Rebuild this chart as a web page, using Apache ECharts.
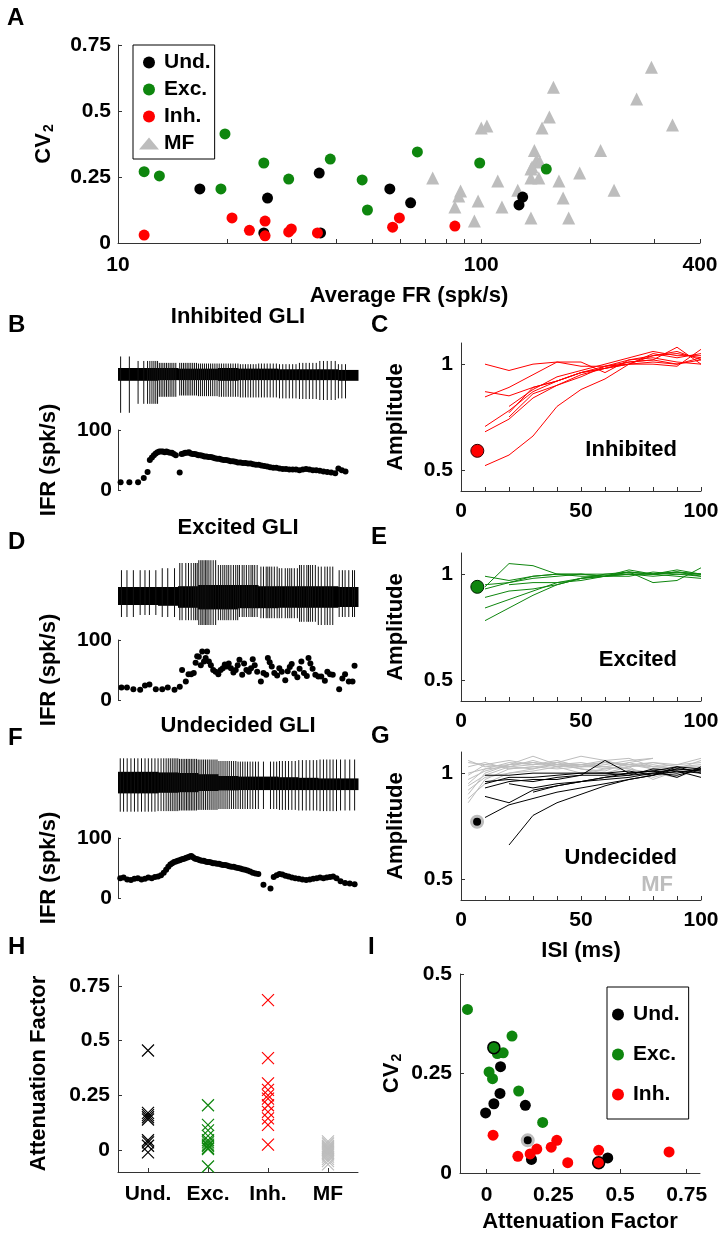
<!DOCTYPE html>
<html>
<head>
<meta charset="utf-8">
<script src="https://cdn.jsdelivr.net/npm/echarts@6.0.0/dist/echarts.min.js"></script>
<style>
html, body { margin: 0; padding: 0; background: #fff; }
#chart { width: 725px; height: 1237px; }
</style>
</head>
<body>
<div id="chart"></div>
<script>
// ---------- A: CV2 vs average firing rate ----------
const aUnd = [[16.8,0.205],[25.8,0.17],[35.8,0.265],[25.2,0.038],[36.1,0.038],[56,0.205],[63.9,0.152],[130,0.174],[127,0.144]];
const aExc = [[11.8,0.27],[13.0,0.254],[19.7,0.413],[19.2,0.205],[25.2,0.303],[29.5,0.242],[38.4,0.318],[47,0.239],[48.6,0.125],[66.7,0.345],[99,0.303],[151,0.28]];
const aInh = [[11.8,0.03],[20.6,0.095],[23,0.048],[25.4,0.083],[25.4,0.027],[29.5,0.042],[30,0.053],[35.4,0.038],[57,0.06],[59.5,0.095],[84.6,0.064]];
const aMF = [[100,0.436],[103.6,0.443],[154,0.477],[147,0.436],[158,0.59],[140,0.35],[267.7,0.545],[294,0.666],[336,0.447],[213,0.35],
  [73.5,0.246],[87.7,0.197],[86.7,0.178],[84.6,0.136],[98,0.159],[95.7,0.083],[111,0.235],[114,0.136],[126,0.2],[137,0.28],
  [137,0.095],[137,0.246],[142,0.314],[144,0.246],[163.6,0.235],[168,0.17],[174,0.095],[186.6,0.265],[232,0.2],[145,0.307],[138,0.288]];
const frLabels = [10, 100, 400];
const frTicks = [10,20,30,40,50,60,70,80,90,100,200,300,400];

// ---------- B, D, F: instantaneous firing rate per spike (spk/s) ----------
const ifrB = [13,13,13,20,30,50,54,58,61,63,64,64,64,63,64,63,62,62,60,58,29,60,61,62,62,63,61,60,60,59,58,58,57,56,56,55,55,54,53,52,52,51,50,50,49,48,48,47,46,46,45,45,44,44,43,42,42,41,40,39,38,37,37,36,35,35,34,34,34,33,34,35,34,33,33,32,31,30,29,28,36,33,31];
const ifrD = [21,21,18,17,24,26,18,18,21,17,22,50,31,43,43,45,62,73,72,58,81,64,70,81,64,58,50,47,43,50,53,59,56,61,53,46,50,58,67,42,61,50,47,53,68,58,47,31,45,42,70,63,56,45,41,53,47,33,48,55,60,44,38,52,64,45,40,70,61,52,42,39,39,32,47,43,42,18,36,43,31,31,57];
const ifrF = [33,34,31,30,32,33,31,32,34,33,35,36,38,42,47,52,56,58,60,61,62,63,64,65,66,67,68,69,70,68,66,65,64,63,62,62,61,60,60,59,58,58,57,57,56,55,55,54,53,52,52,51,50,49,48,47,46,44,42,41,40,22,16,35,38,40,39,37,36,34,33,32,31,30,31,32,33,34,33,34,35,36,33,28,25,24,23];

// raw trace envelopes (12 equal time bins, arbitrary units)
const upB   = [0.86,0.72,0.66,0.66,0.64,0.64,0.62,0.64,0.62,0.66,0.72,0.62];
const downB = [-0.9,-0.62,-0.4,-0.36,-0.38,-0.4,-0.42,-0.42,-0.45,-0.47,-0.5,-0.45];
const bandTopB = [0.5,0.5,0.5,0.48,0.48,0.5,0.48,0.48,0.46,0.46,0.46,0.44];
const bandBotB = [0.1,0.1,0.12,0.12,0.12,0.1,0.12,0.12,0.12,0.12,0.12,0.1];
const upD   = [0.62,0.62,0.67,0.8,0.87,0.75,0.75,0.71,0.67,0.75,0.71,0.62];
const downD = [-0.55,-0.5,-0.55,-0.63,-0.75,-0.63,-0.55,-0.58,-0.58,-0.67,-0.75,-0.55];
const bandTopD = [0.2,0.2,0.2,0.22,0.25,0.25,0.25,0.22,0.22,0.22,0.22,0.2];
const bandBotD = [-0.25,-0.25,-0.27,-0.32,-0.36,-0.36,-0.33,-0.33,-0.32,-0.32,-0.32,-0.3];
const upF   = [0.89,0.89,0.89,0.87,0.85,0.8,0.78,0.78,0.8,0.83,0.85,0.85];
const downF = [-0.89,-0.89,-0.87,-0.85,-0.83,-0.8,-0.8,-0.8,-0.83,-0.85,-0.87,-0.85];
const bandTopF = [0.44,0.44,0.42,0.4,0.36,0.3,0.28,0.28,0.26,0.24,0.22,0.22];
const bandBotF = [-0.28,-0.28,-0.26,-0.24,-0.2,-0.18,-0.17,-0.17,-0.17,-0.17,-0.17,-0.17];

// ---------- C, E, G: amplitude vs ISI ----------
const isiX = [10,20,30,40,50,60,70,80,90,100];
const inhLines = [
  [1.0,0.97,1.0,1.01,1.01,0.96,1.02,1.04,1.05,1.03],
  [0.87,0.85,0.89,0.92,0.96,0.98,1.0,1.04,1.06,1.02],
  [0.845,0.89,0.95,1.01,0.99,0.99,1.01,1.02,1.0,1.02],
  [0.705,0.78,0.87,0.92,0.96,0.99,1.02,1.03,1.01,1.0],
  [0.68,0.74,0.84,0.9,0.95,0.98,1.0,1.05,1.03,1.05],
  [0.52,0.57,0.66,0.8,0.88,0.93,1.0,1.01,1.0,1.03],
  [null,0.8,0.88,0.94,0.97,1.0,1.03,1.06,1.04,1.04],
  [null,0.75,0.86,0.9,0.94,0.99,1.0,1.0,0.99,1.07],
  [null,0.77,0.89,0.92,0.96,0.98,1.01,1.02,1.08,1.0]
];
const excLines = [
  [0.94,1.05,1.04,1.0,1.0,0.99,1.01,1.0,1.01,1.0],
  [0.99,0.97,0.99,1.0,1.0,0.99,1.01,0.96,0.97,1.03],
  [0.89,0.92,0.93,0.95,0.98,0.99,1.0,1.0,1.01,0.99],
  [0.84,0.88,0.92,0.96,0.98,0.99,1.0,0.99,1.0,1.0],
  [0.78,0.84,0.9,0.95,0.98,1.0,1.01,1.0,0.99,0.98],
  [0.93,0.96,0.98,0.99,1.0,1.0,1.0,1.0,1.02,1.0],
  [null,0.95,0.96,0.96,0.97,0.99,1.02,1.0,1.01,1.0],
  [0.95,0.96,0.99,1.0,0.99,0.99,0.99,1.01,1.0,0.99]
];
const undLines = [
  [0.79,0.85,0.88,0.91,0.93,0.95,0.97,0.99,1.01,1.0],
  [null,0.66,0.8,0.86,0.9,0.94,0.97,0.99,1.02,1.01],
  [0.89,0.86,0.92,0.94,0.96,0.97,0.98,1.0,0.99,1.02],
  [0.99,0.99,1.0,1.0,1.0,1.0,0.99,1.0,1.02,1.01],
  [0.96,0.97,0.96,0.98,0.99,1.06,1.0,1.01,1.03,1.02],
  [0.93,0.96,0.97,0.97,0.99,0.99,1.0,1.01,0.98,1.03],
  [null,0.95,0.93,0.95,0.96,0.98,0.99,1.02,1.01,0.98],
  [null,null,0.91,0.94,0.96,0.98,1.0,1.01,1.0,1.02],
  [0.95,0.98,0.98,0.99,1.0,1.0,1.01,0.99,1.03,1.0]
];
const mfX = [3,10,20,30,40,50,60,70,80,90,100];
const mfLines = [
  [0.86,0.97,1.02,1.03,1.04,1.05,1.03,1.05,1.07,null,null],
  [0.9,1.0,1.04,1.05,1.03,1.04,1.05,1.04,1.03,1.02,1.06],
  [0.95,1.02,1.03,1.04,1.05,1.04,1.02,1.04,1.05,1.03,1.03],
  [1.05,1.04,1.03,1.02,1.05,1.08,1.06,1.03,1.04,1.02,1.0],
  [0.92,0.98,1.0,1.02,1.04,1.04,1.06,1.07,1.03,1.04,1.05],
  [1.0,1.02,1.05,1.04,1.06,1.03,1.03,1.02,0.98,1.01,null],
  [0.97,1.01,1.04,1.08,1.04,1.02,1.01,1.05,1.02,1.0,1.03],
  [1.03,1.05,1.02,1.03,1.02,1.03,1.04,1.06,1.07,null,null],
  [0.88,0.95,1.0,1.01,1.03,1.04,1.03,1.02,1.0,0.98,1.02],
  [1.06,1.03,1.04,1.05,1.04,1.03,1.05,1.04,1.02,1.03,1.04],
  [0.94,0.99,1.03,1.06,1.03,1.0,1.02,1.03,0.97,1.01,1.02],
  [0.99,1.04,1.06,1.04,1.05,1.02,1.0,1.03,1.05,1.04,1.07]
];
const inhExample = [[6.8,0.59]];
const excExample = [[6.8,0.94]];
const undExample = [[6.7,0.77]];

// ---------- H: attenuation factor by group ----------
const hGroups = ['Und.','Exc.','Inh.','MF'];
const hUnd = [0.455,0.17,0.16,0.15,0.14,0.045,0.035,0.02,-0.01];
const hExc = [0.205,0.115,0.09,0.065,0.045,0.035,0.025,0.02,0.01,0.005,-0.075];
const hInh = [0.685,0.42,0.305,0.275,0.25,0.235,0.205,0.175,0.145,0.115,0.025];
const hMF  = [0.04,0.03,0.02,0.015,0.01,0.005,0,-0.005,-0.01,-0.015,-0.02,-0.03,-0.04,-0.05,-0.065];
const afTicks = [0,0.25,0.5,0.75];

// ---------- I: CV2 vs attenuation factor ----------
const iExc = [[-0.072,0.411],[0.095,0.344],[0.062,0.302],[0.04,0.3],[0.009,0.254],[0.022,0.237],[0.12,0.206],[0.21,0.127]];
const iUnd = [[0.052,0.267],[0.05,0.2],[0.027,0.174],[-0.004,0.151],[0.145,0.17],[0.168,0.034],[0.454,0.038]];
const iInh = [[0.024,0.095],[0.117,0.042],[0.163,0.048],[0.188,0.06],[0.242,0.065],[0.263,0.082],[0.304,0.026],[0.42,0.057],[0.684,0.053]];
const iExcMarked = [[0.027,0.315]];
const iUndMarked = [[0.154,0.082]];
const iInhMarked = [[0.42,0.026]];

const FONT = '"Liberation Sans", Arial, Helvetica, sans-serif';
const AX = '#333';
const BLACK = '#000', GREEN = '#0e860e', RED = '#ff0000', GRAY = '#bdbdbd';

function lab(size, extra) {
  return Object.assign({ color: '#000', fontFamily: FONT, fontWeight: 'bold', fontSize: size }, extra || {});
}
const line = { show: true, onZero: false, lineStyle: { color: AX, width: 1 } };
const tick = (o) => Object.assign({ show: true, inside: true, length: 4, lineStyle: { color: AX } }, o || {});

// spike times: each IFR value is 1/ISI to the previous spike
function spikeTimes(ifr) {
  const t = [0];
  for (let i = 1; i < ifr.length; i++) t.push(t[i - 1] + 1 / ifr[i]);
  return t;
}
const tB = spikeTimes(ifrB), tD = spikeTimes(ifrD), tF = spikeTimes(ifrF);
const xrB = [-0.023, tB[tB.length - 1] + 0.11];
const xrD = [-0.03, tD[tD.length - 1] + 0.03];
const xrF = [-0.02, tF[tF.length - 1] + 0.03];

const grids = [
  { left: 118, top: 45, width: 582, height: 198 },     // 0 A
  { left: 118, top: 352, width: 240, height: 64 },     // 1 B trace
  { left: 118, top: 430, width: 240, height: 60 },     // 2 B ifr
  { left: 461, top: 343, width: 240, height: 148 },    // 3 C
  { left: 118, top: 555, width: 240, height: 80 },     // 4 D trace
  { left: 118, top: 640, width: 240, height: 60 },     // 5 D ifr
  { left: 461, top: 553, width: 240, height: 148 },    // 6 E
  { left: 118, top: 755, width: 240, height: 60 },     // 7 F trace
  { left: 118, top: 838, width: 240, height: 60 },     // 8 F ifr
  { left: 461, top: 752, width: 240, height: 148 },    // 9 G
  { left: 118, top: 975, width: 240, height: 197 },    // 10 H
  { left: 460, top: 974, width: 240, height: 199 }     // 11 I
];

function hidden(gi, min, max) { return { type: 'value', gridIndex: gi, min, max, show: false }; }
function isiX_axis(gi, name) {
  return {
    type: 'value', gridIndex: gi, min: 0, max: 100, interval: 10,
    axisLine: line, axisTick: tick(), splitLine: { show: false },
    axisLabel: lab(21, { margin: 10, formatter: v => (v % 50 === 0 ? String(v) : '') }),
    name: name || '', nameLocation: 'middle', nameGap: 40, nameTextStyle: lab(22)
  };
}
function ampY(gi) {
  return {
    type: 'value', gridIndex: gi, min: 0.4, max: 1.1,
    axisLine: line, axisTick: tick({ customValues: [0.5, 1] }), splitLine: { show: false },
    axisLabel: lab(21, { margin: 8, customValues: [0.5, 1], formatter: v => String(v) }),
    name: 'Amplitude', nameLocation: 'middle', nameRotate: 90, nameGap: 54, nameTextStyle: lab(22)
  };
}
function ifrY(gi) {
  return {
    type: 'value', gridIndex: gi, min: 0, max: 100, interval: 100,
    axisLine: line, axisTick: tick({ length: 3 }), splitLine: { show: false },
    axisLabel: lab(21, { margin: 6 }),
    name: 'IFR (spk/s)', nameLocation: 'middle', nameRotate: 90, nameGap: 58, nameTextStyle: lab(22)
  };
}
const cvName = '{a|CV}{b|2}';
const cvStyle = lab(22, { rich: { a: lab(22), b: lab(14, { padding: [10, 0, 0, 1] }) } });

const xAxis = [
  { type: 'log', logBase: 10, gridIndex: 0, min: 10, max: 400,
    axisLine: line, axisTick: tick({ customValues: frTicks }), splitLine: { show: false },
    axisLabel: lab(21, { margin: 12, customValues: frLabels, formatter: v => String(Math.round(v)) }),
    name: 'Average FR (spk/s)', nameLocation: 'middle', nameGap: 42, nameTextStyle: lab(22) },
  hidden(1, xrB[0], xrB[1]), hidden(2, xrB[0], xrB[1]),
  isiX_axis(3),
  hidden(4, xrD[0], xrD[1]), hidden(5, xrD[0], xrD[1]),
  isiX_axis(6),
  hidden(7, xrF[0], xrF[1]), hidden(8, xrF[0], xrF[1]),
  isiX_axis(9, 'ISI (ms)'),
  { type: 'category', gridIndex: 10, data: hGroups, boundaryGap: true,
    axisLine: line, axisTick: tick({ alignWithLabel: true, interval: 0 }), splitLine: { show: false },
    axisLabel: lab(21, { margin: 12, interval: 0 }) },
  { type: 'value', gridIndex: 11, min: -0.1, max: 0.8,
    axisLine: line, axisTick: tick({ customValues: afTicks }), splitLine: { show: false },
    axisLabel: lab(21, { margin: 12, customValues: afTicks, formatter: v => String(v) }),
    name: 'Attenuation Factor', nameLocation: 'middle', nameGap: 38, nameTextStyle: lab(22) }
];
const yAxis = [
  { type: 'value', gridIndex: 0, min: 0, max: 0.75, interval: 0.25,
    axisLine: line, axisTick: tick(), splitLine: { show: false },
    axisLabel: lab(21, { margin: 7 }),
    name: cvName, nameLocation: 'middle', nameRotate: 90, nameGap: 62, nameTextStyle: cvStyle },
  hidden(1, -1, 1), ifrY(2), ampY(3),
  hidden(4, -1, 1), ifrY(5), ampY(6),
  hidden(7, -1, 1), ifrY(8), ampY(9),
  { type: 'value', gridIndex: 10, min: -0.1, max: 0.8,
    axisLine: line, axisTick: tick({ customValues: afTicks }), splitLine: { show: false },
    axisLabel: lab(21, { margin: 8, customValues: afTicks, formatter: v => String(v) }),
    name: 'Attenuation Factor', nameLocation: 'middle', nameRotate: 90, nameGap: 68, nameTextStyle: lab(22) },
  { type: 'value', gridIndex: 11, min: 0, max: 0.5, interval: 0.25,
    axisLine: line, axisTick: tick(), splitLine: { show: false },
    axisLabel: lab(21, { margin: 8 }),
    name: cvName, nameLocation: 'middle', nameRotate: 90, nameGap: 56, nameTextStyle: cvStyle }
];

const series = [];
function scat(name, gi, data, color, size, extra) {
  const ex = extra || {};
  series.push(Object.assign({
    type: 'scatter', name, xAxisIndex: gi, yAxisIndex: gi, data, symbolSize: size,
    silent: true, z: 4
  }, ex, { itemStyle: Object.assign({ color, opacity: 1 }, ex.itemStyle || {}) }));
}
function addLines(gi, xs, rows, color, z) {
  rows.forEach(r => {
    series.push({
      type: 'line', xAxisIndex: gi, yAxisIndex: gi, symbol: 'none', silent: true, z,
      lineStyle: { color, width: 1, opacity: 1 },
      data: xs.map((x, i) => [x, r[i]]).filter(p => p[1] !== null)
    });
  });
}
function addTrace(gi, times, xr, up, down, top, bot) {
  const n = up.length, span = xr[1] - xr[0];
  const bin = t => Math.min(n - 1, Math.max(0, Math.floor((t - xr[0]) / span * n)));
  const band = top.map((v, i) => [xr[0] + span * i / n, xr[0] + span * (i + 1) / n, v, bot[i]]);
  series.push({
    type: 'custom', xAxisIndex: gi, yAxisIndex: gi, silent: true, data: band,
    encode: { x: [0, 1], y: [2, 3] },
    renderItem: (p, api) => {
      const a = api.coord([api.value(0), api.value(2)]);
      const b = api.coord([api.value(1), api.value(3)]);
      return { type: 'rect', shape: { x: a[0], y: a[1], width: b[0] - a[0] + 0.5, height: b[1] - a[1] }, style: { fill: '#000' } };
    }
  });
  series.push({
    type: 'custom', xAxisIndex: gi, yAxisIndex: gi, silent: true,
    data: times.map(t => [t, up[bin(t)], down[bin(t)]]),
    encode: { x: 0, y: [1, 2] },
    renderItem: (p, api) => {
      const a = api.coord([api.value(0), api.value(1)]);
      const b = api.coord([api.value(0), api.value(2)]);
      return { type: 'line', shape: { x1: a[0], y1: a[1], x2: b[0], y2: b[1] }, style: { stroke: '#111', lineWidth: 1 } };
    }
  });
}

// A
scat('MF', 0, aMF, GRAY, 13, { symbol: 'triangle', z: 3 });
scat('Exc.', 0, aExc, GREEN, 11);
scat('Und.', 0, aUnd, BLACK, 11);
scat('Inh.', 0, aInh, RED, 11);

// B, D, F
addTrace(1, tB, xrB, upB, downB, bandTopB, bandBotB);
scat('ifrB', 2, tB.map((t, i) => [t, ifrB[i]]), BLACK, 6);
addTrace(4, tD, xrD, upD, downD, bandTopD, bandBotD);
scat('ifrD', 5, tD.map((t, i) => [t, ifrD[i]]), BLACK, 6);
addTrace(7, tF, xrF, upF, downF, bandTopF, bandBotF);
scat('ifrF', 8, tF.map((t, i) => [t, ifrF[i]]), BLACK, 6);

// C, E, G
addLines(3, isiX, inhLines, RED, 2);
scat('inhEx', 3, inhExample, RED, 13, { itemStyle: { borderColor: '#300', borderWidth: 1 } });
addLines(6, isiX, excLines, GREEN, 2);
scat('excEx', 6, excExample, GREEN, 13, { itemStyle: { borderColor: '#020', borderWidth: 1 } });
addLines(9, mfX, mfLines, GRAY, 1);
addLines(9, isiX, undLines, BLACK, 2);
scat('undEx', 9, undExample, BLACK, 11, { itemStyle: { borderColor: GRAY, borderWidth: 3 } });

// H
const cross = 'path://M0,0L10,10M10,0L0,10';
[[hUnd, BLACK], [hExc, GREEN], [hInh, RED], [hMF, GRAY]].forEach((g, k) => {
  scat('h' + k, 10, g[0].map(v => [k, v]), 'rgba(0,0,0,0)', 12,
    { symbol: cross, itemStyle: { borderColor: g[1], borderWidth: 1.2 } });
});

// I
scat('iExc', 11, iExc, GREEN, 11);
scat('iUnd', 11, iUnd, BLACK, 11);
scat('iInh', 11, iInh, RED, 11);
scat('iExcM', 11, iExcMarked, GREEN, 12, { itemStyle: { borderColor: '#000', borderWidth: 1.5 } });
scat('iUndM', 11, iUndMarked, BLACK, 11, { itemStyle: { borderColor: GRAY, borderWidth: 3 } });
scat('iInhM', 11, iInhMarked, RED, 12, { itemStyle: { borderColor: '#000', borderWidth: 1.5 } });

function txt(x, y, s, size, align, color) {
  return {
    type: 'text', x, y, silent: true,
    style: { text: s, font: 'bold ' + size + 'px ' + FONT, fill: color || '#000',
      align: align || 'left', textAlign: align || 'left', verticalAlign: 'middle', textVerticalAlign: 'middle' }
  };
}
const graphic = [
  txt(7, 18, 'A', 24), txt(8, 325, 'B', 24), txt(371, 325, 'C', 24),
  txt(8, 542, 'D', 24), txt(371, 537, 'E', 24), txt(8, 738, 'F', 24),
  txt(371, 736, 'G', 24), txt(8, 947, 'H', 24), txt(368, 947, 'I', 24),
  txt(238, 317, 'Inhibited GLI', 22, 'center'),
  txt(238, 528, 'Excited GLI', 22, 'center'),
  txt(238, 726, 'Undecided GLI', 22, 'center'),
  txt(677, 450, 'Inhibited', 22, 'right'),
  txt(677, 660, 'Excited', 22, 'right'),
  txt(677, 858, 'Undecided', 22, 'right'),
  txt(673, 885, 'MF', 22, 'right', GRAY)
];

const legendBase = {
  orient: 'vertical', selectedMode: false, backgroundColor: '#fff',
  borderColor: '#000', borderWidth: 1, itemWidth: 20, itemHeight: 12,
  textStyle: lab(21, { lineHeight: 21 })
};

const chart = echarts.init(document.getElementById('chart'));
chart.setOption({
  animation: false,
  backgroundColor: '#fff',
  grid: grids,
  xAxis,
  yAxis,
  legend: [
    Object.assign({}, legendBase, { data: ['Und.', 'Exc.', 'Inh.', 'MF'], left: 133, top: 45, itemGap: 6, padding: [7, 4, 5, 6] }),
    Object.assign({}, legendBase, { data: ['Und.', 'Exc.', 'Inh.'], left: 607, top: 987, itemGap: 19, padding: [17, 9, 14, 5] })
  ],
  graphic,
  series
});
</script>
</body>
</html>
